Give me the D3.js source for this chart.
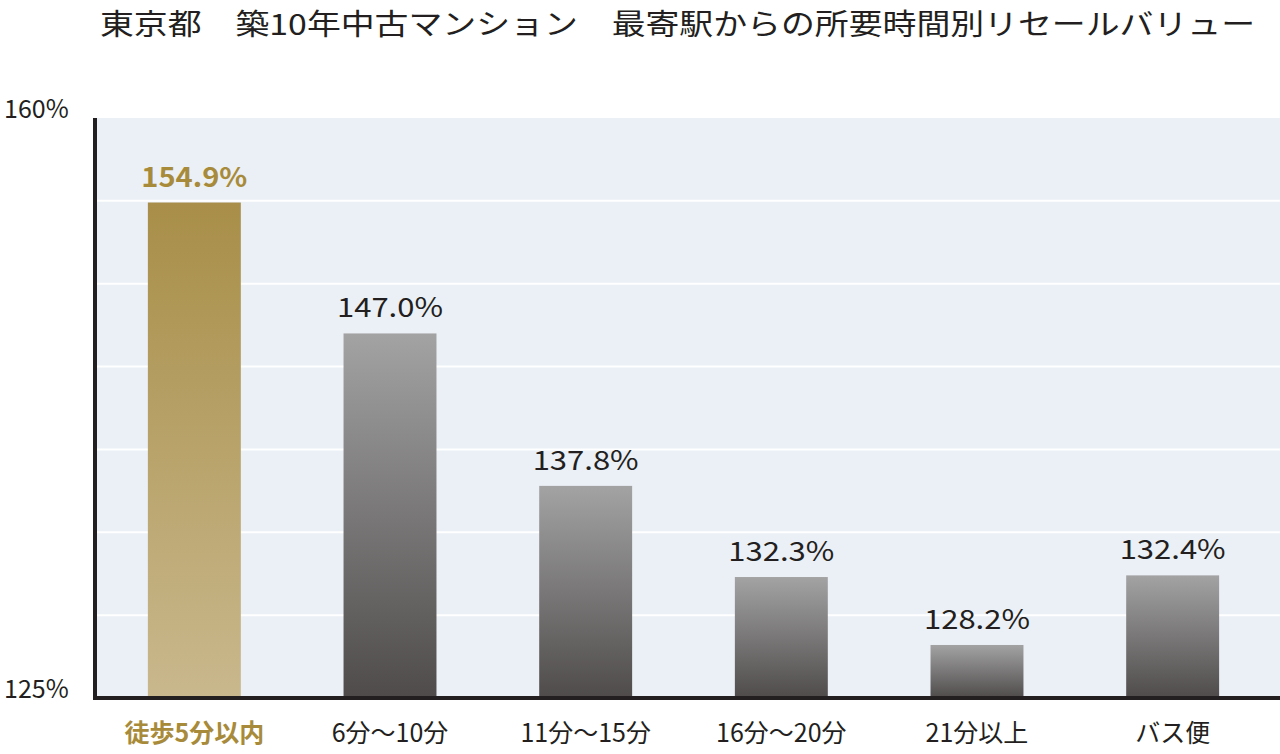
<!DOCTYPE html>
<html><head><meta charset="utf-8">
<script src="https://cdn.jsdelivr.net/npm/d3@7"></script>
<style>body{margin:0;background:#fff}svg{display:block}</style>
</head><body>
<svg id="chart" width="1280" height="754"></svg>
<script>
var categories = ["徒歩5分以内", "6分〜10分", "11分〜15分", "16分〜20分", "21分以上", "バス便"];
var values = [154.9, 147.0, 137.8, 132.3, 128.2, 132.4];
var tickLabels = ["125%", "160%"];

var svg = d3.select("#chart");
var font = "'Noto Sans CJK JP', 'Noto Sans', sans-serif";
var plotLeft = 97, plotRight = 1280, plotTop = 118, plotBottom = 698;

var y = d3.scaleLinear().domain([125, 160]).range([plotBottom, plotTop]);
var x = d3.scaleBand().domain(categories).range([plotLeft, 1270]).paddingInner(0.525).paddingOuter(0.26);

var defs = svg.append("defs");
var g1 = defs.append("linearGradient").attr("id", "gold").attr("x1", 0).attr("y1", 0).attr("x2", 0).attr("y2", 1);
g1.append("stop").attr("offset", 0).attr("stop-color", "#a88e48");
g1.append("stop").attr("offset", 1).attr("stop-color", "#c9b88d");
var g2 = defs.append("linearGradient").attr("id", "grey").attr("x1", 0).attr("y1", 0).attr("x2", 0).attr("y2", 1);
g2.append("stop").attr("offset", 0).attr("stop-color", "#a3a3a3");
g2.append("stop").attr("offset", 1).attr("stop-color", "#4f4b4b");

// plot background
svg.append("rect").attr("x", plotLeft).attr("y", plotTop).attr("width", plotRight - plotLeft).attr("height", plotBottom - plotTop).attr("fill", "#ebf0f6");

// gridlines every 5%
d3.range(130, 160, 5).forEach(function(v){
    svg.append("line").attr("x1", plotLeft).attr("x2", plotRight).attr("y1", y(v)).attr("y2", y(v))
        .attr("stroke", "#fff").attr("stroke-width", 2);
});

svg.selectAll(".bar").data(values).enter().append("rect")
    .attr("x", function(d, i){ return x(categories[i]); })
    .attr("width", x.bandwidth())
    .attr("y", function(d){ return y(d); })
    .attr("height", function(d){ return plotBottom - y(d); })
    .attr("fill", function(d, i){ return i == 0 ? "url(#gold)" : "url(#grey)"; });

svg.selectAll(".val").data(values).enter().append("text")
    .attr("x", function(d, i){ return x(categories[i]) + x.bandwidth()/2; })
    .attr("y", function(d){ return y(d) - 16; })
    .attr("text-anchor", "middle")
    .attr("font-family", font).attr("font-size", 27)
    .attr("font-weight", function(d, i){ return i == 0 ? "bold" : "normal"; })
    .attr("fill", function(d, i){ return i == 0 ? "#a88b3a" : "#231f20"; })
    .attr("textLength", 106).attr("lengthAdjust", "spacingAndGlyphs")
    .text(function(d){ return d.toFixed(1) + "%"; });

svg.selectAll(".cat").data(categories).enter().append("text")
    .attr("x", function(d){ return x(d) + x.bandwidth()/2; })
    .attr("y", 742)
    .attr("text-anchor", "middle")
    .attr("font-family", font).attr("font-size", 25)
    .attr("font-weight", function(d, i){ return i == 0 ? "bold" : "normal"; })
    .attr("fill", function(d, i){ return i == 0 ? "#a88b3a" : "#231f20"; })
    .text(function(d){ return d; });

// axes
svg.append("line").attr("x1", plotLeft - 2).attr("x2", plotLeft - 2).attr("y1", plotTop).attr("y2", plotBottom + 2)
    .attr("stroke", "#231f20").attr("stroke-width", 4);
svg.append("line").attr("x1", plotLeft - 4).attr("x2", plotRight).attr("y1", plotBottom).attr("y2", plotBottom)
    .attr("stroke", "#231f20").attr("stroke-width", 4);

svg.append("text").attr("x", 4).attr("y", 118).attr("font-family", font).attr("font-size", 25)
    .attr("fill", "#231f20").text(tickLabels[1]);
svg.append("text").attr("x", 4).attr("y", 698).attr("font-family", font).attr("font-size", 25)
    .attr("fill", "#231f20").text(tickLabels[0]);

svg.append("text").attr("x", 100).attr("y", 35)
    .attr("font-family", font).attr("font-size", 29).attr("fill", "#231f20")
    .attr("textLength", 1155).attr("lengthAdjust", "spacingAndGlyphs")
    .attr("xml:space", "preserve")
    .text("東京都　築10年中古マンション　最寄駅からの所要時間別リセールバリュー");
</script>
</body></html>
